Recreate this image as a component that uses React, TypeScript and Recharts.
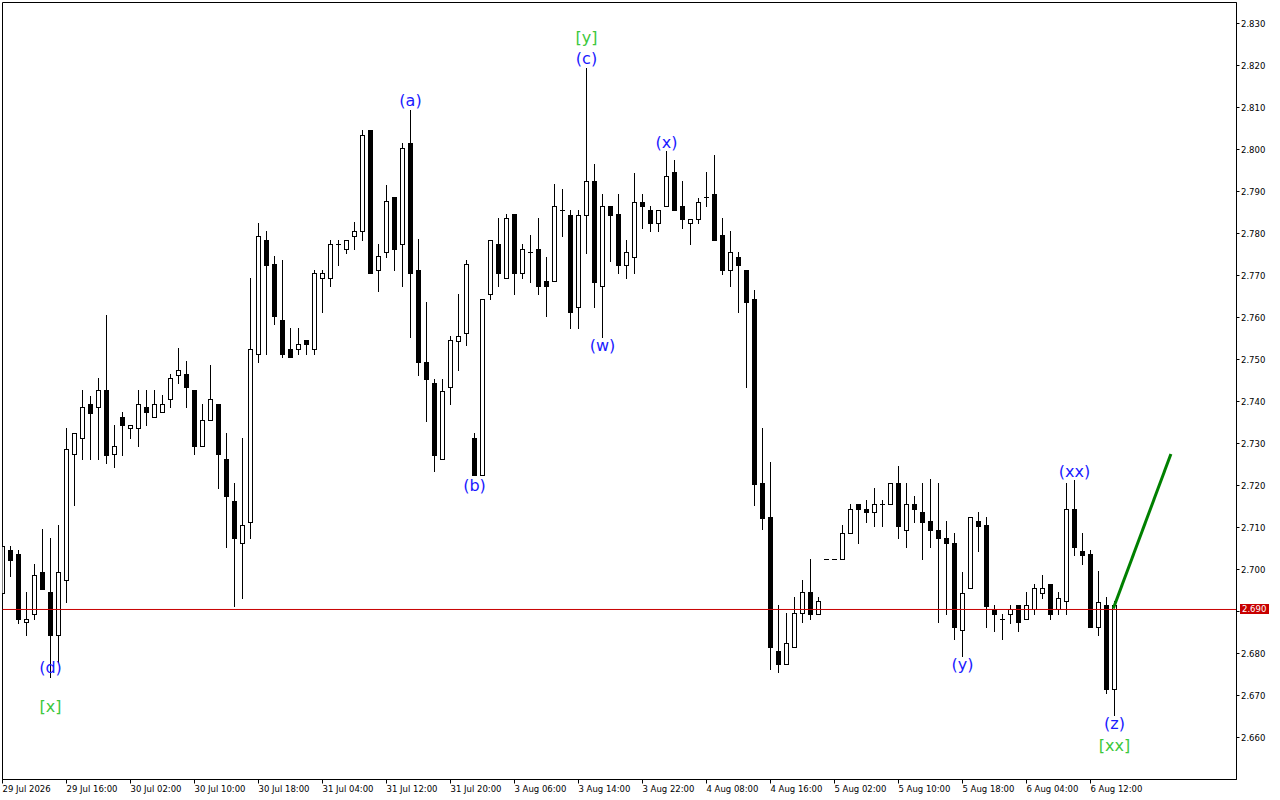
import {
  ComposedChart,
  Bar,
  XAxis,
  YAxis,
  ReferenceLine,
  ReferenceDot,
  ReferenceArea,
} from 'recharts';

const FONT = '"DejaVu Sans", Verdana, sans-serif';

// hourly bars, oldest first (29 Jul 08:00 .. 6 Aug 15:00)
const opens = [
  2.6944, 2.7046, 2.7037, 2.6874, 2.6895, 2.6995, 2.6946, 2.6845, 2.6974, 2.7274,
  2.7314, 2.7395, 2.7386, 2.7427, 2.7274, 2.7364, 2.7336, 2.7336, 2.7386, 2.7364,
  2.7374, 2.7405, 2.7464, 2.7465, 2.7427, 2.7294, 2.7355, 2.7395, 2.7264, 2.7164,
  2.7064, 2.7114, 2.7514, 2.7785, 2.7727, 2.7595, 2.7526, 2.7526, 2.7546, 2.7526,
  2.7695, 2.7695, 2.7776, 2.7764, 2.7795, 2.7805, 2.8046, 2.7714, 2.7755, 2.7886,
  2.7776, 2.8016, 2.7714, 2.7495, 2.7445, 2.7263, 2.7435, 2.7545, 2.7564, 2.7314,
  2.7225, 2.7655, 2.7776, 2.7694, 2.7846, 2.7705, 2.7755, 2.7764, 2.7686, 2.7686,
  2.7855, 2.7845, 2.7626, 2.7845, 2.7926, 2.7675, 2.7866, 2.7846, 2.7725, 2.7745,
  2.7876, 2.7855, 2.7826, 2.7866, 2.7946, 2.7866, 2.7825, 2.7835, 2.7887, 2.7895,
  2.7796, 2.7714, 2.7745, 2.7714, 2.7645, 2.7205, 2.7124, 2.6805, 2.6774, 2.6815,
  2.6897, 2.6946, 2.6894, 2.7024, 2.7024, 2.7024, 2.7086, 2.7155, 2.7145, 2.7136,
  2.7155, 2.7155, 2.7205, 2.7095, 2.7155, 2.7136, 2.7115, 2.7095, 2.7074, 2.7064,
  2.6855, 2.6955, 2.7115, 2.7105, 2.6905, 2.6883, 2.6895, 2.6915, 2.6883, 2.6905,
  2.6945, 2.6965, 2.6905, 2.6924, 2.7145, 2.7045, 2.7036, 2.6864, 2.6915, 2.6715,
];

const highs = [
  2.706, 2.7056, 2.7046, 2.6946, 2.7014, 2.7096, 2.7075, 2.7105, 2.7336, 2.7324,
  2.7427, 2.7414, 2.7455, 2.7605, 2.7345, 2.7374, 2.7345, 2.7427, 2.7427, 2.7427,
  2.7415, 2.7465, 2.7527, 2.7496, 2.7427, 2.7395, 2.7486, 2.7395, 2.7325, 2.7205,
  2.7314, 2.7695, 2.7826, 2.7805, 2.7746, 2.7736, 2.7576, 2.7576, 2.7546, 2.7714,
  2.7714, 2.7785, 2.7785, 2.7785, 2.7827, 2.8046, 2.8046, 2.7776, 2.7916, 2.7886,
  2.8016, 2.8095, 2.7786, 2.7636, 2.7454, 2.7454, 2.7555, 2.7655, 2.7736, 2.7324,
  2.7645, 2.7785, 2.7836, 2.7846, 2.7846, 2.7776, 2.7796, 2.7836, 2.7744, 2.7917,
  2.7905, 2.7855, 2.7855, 2.8195, 2.7966, 2.7895, 2.7866, 2.7895, 2.7785, 2.7945,
  2.7895, 2.7866, 2.7855, 2.7996, 2.7976, 2.7926, 2.7835, 2.7885, 2.7946, 2.7986,
  2.7836, 2.7806, 2.7755, 2.7714, 2.7665, 2.7337, 2.7255, 2.6915, 2.6897, 2.6934,
  2.6974, 2.7024, 2.6934, 2.7024, 2.7024, 2.7105, 2.7155, 2.7155, 2.7165, 2.7195,
  2.7165, 2.7205, 2.7246, 2.7205, 2.7175, 2.7205, 2.7215, 2.7205, 2.7115, 2.7086,
  2.6995, 2.7124, 2.7136, 2.7124, 2.6915, 2.6894, 2.6915, 2.6915, 2.6947, 2.6965,
  2.6987, 2.6965, 2.6947, 2.7205, 2.7214, 2.7086, 2.7046, 2.6996, 2.6935, 2.6925,
];

const lows = [
  2.6937, 2.6985, 2.6873, 2.6845, 2.6883, 2.6954, 2.6744, 2.678, 2.6923, 2.7154,
  2.7263, 2.7263, 2.7263, 2.7254, 2.7244, 2.7273, 2.7314, 2.7294, 2.7345, 2.7364,
  2.7374, 2.7386, 2.7444, 2.7386, 2.7274, 2.7294, 2.7355, 2.7194, 2.7054, 2.6913,
  2.6933, 2.7074, 2.7494, 2.7514, 2.7585, 2.7505, 2.7505, 2.7514, 2.7514, 2.7514,
  2.7613, 2.7675, 2.7725, 2.7754, 2.7763, 2.7785, 2.7705, 2.7663, 2.7744, 2.7712,
  2.7675, 2.7554, 2.7463, 2.7354, 2.7235, 2.7263, 2.7395, 2.7474, 2.7534, 2.7225,
  2.7225, 2.7644, 2.7675, 2.7694, 2.7655, 2.7694, 2.7685, 2.7655, 2.7604, 2.7686,
  2.7794, 2.7575, 2.7575, 2.7754, 2.7625, 2.7554, 2.7735, 2.7705, 2.7695, 2.7705,
  2.7814, 2.7805, 2.7805, 2.7866, 2.7855, 2.7813, 2.7776, 2.7825, 2.7866, 2.7785,
  2.7704, 2.7675, 2.7614, 2.7435, 2.7153, 2.7096, 2.6764, 2.6755, 2.6774, 2.6815,
  2.6874, 2.6883, 2.6894, 2.7024, 2.7024, 2.7024, 2.7086, 2.7063, 2.7113, 2.7104,
  2.7104, 2.7155, 2.7074, 2.7054, 2.7113, 2.7024, 2.7054, 2.6874, 2.6894, 2.6834,
  2.6794, 2.6955, 2.7044, 2.6864, 2.6853, 2.6834, 2.6873, 2.6854, 2.6883, 2.6895,
  2.6933, 2.6883, 2.6895, 2.6895, 2.7035, 2.7014, 2.6864, 2.6845, 2.6705, 2.6653,
];

const closes = [
  2.7056, 2.7023, 2.6883, 2.6883, 2.6986, 2.6954, 2.6845, 2.6995, 2.7286, 2.7324,
  2.7386, 2.7373, 2.7427, 2.7273, 2.7295, 2.7345, 2.7345, 2.7395, 2.7374, 2.7395,
  2.7395, 2.7455, 2.7476, 2.7435, 2.7294, 2.7355, 2.7405, 2.7274, 2.7174, 2.7074,
  2.7105, 2.7526, 2.7795, 2.7725, 2.7604, 2.7514, 2.7505, 2.7536, 2.7536, 2.7705,
  2.7705, 2.7776, 2.7776, 2.7785, 2.7805, 2.8035, 2.7705, 2.7746, 2.7877, 2.7763,
  2.8004, 2.7705, 2.7494, 2.7454, 2.7273, 2.7426, 2.7546, 2.7555, 2.7727, 2.7225,
  2.7645, 2.7785, 2.7705, 2.7836, 2.7705, 2.7764, 2.7755, 2.7675, 2.7675, 2.7866,
  2.7855, 2.7613, 2.7845, 2.7926, 2.7685, 2.7866, 2.7845, 2.7725, 2.7755, 2.7875,
  2.7865, 2.7826, 2.7855, 2.7936, 2.7855, 2.7835, 2.7835, 2.7876, 2.7887, 2.7785,
  2.7714, 2.7755, 2.7725, 2.7636, 2.7204, 2.7123, 2.6815, 2.6774, 2.6824, 2.6897,
  2.6946, 2.6894, 2.6925, 2.7024, 2.7024, 2.7086, 2.7145, 2.7145, 2.7136, 2.7155,
  2.7155, 2.7205, 2.7104, 2.7155, 2.7145, 2.7113, 2.7095, 2.7074, 2.7063, 2.6864,
  2.6945, 2.7124, 2.7104, 2.6913, 2.6895, 2.6883, 2.6905, 2.6874, 2.6915, 2.6955,
  2.6955, 2.6895, 2.6933, 2.7145, 2.7054, 2.7035, 2.6864, 2.6923, 2.6715, 2.6915,
];

const timeTicks = [0, 8, 16, 24, 32, 40, 48, 56, 64, 72, 80, 88, 96, 104, 112, 120, 128, 136];
const timeLabels = [
  '29 Jul 2026', '29 Jul 16:00', '30 Jul 02:00', '30 Jul 10:00', '30 Jul 18:00',
  '31 Jul 04:00', '31 Jul 12:00', '31 Jul 20:00', '3 Aug 06:00', '3 Aug 14:00',
  '3 Aug 22:00', '4 Aug 08:00', '4 Aug 16:00', '5 Aug 02:00', '5 Aug 10:00',
  '5 Aug 18:00', '6 Aug 04:00', '6 Aug 12:00',
];

const priceTicks = [
  2.66, 2.67, 2.68, 2.69, 2.7, 2.71, 2.72, 2.73, 2.74,
  2.75, 2.76, 2.77, 2.78, 2.79, 2.8, 2.81, 2.82, 2.83,
];

const lastPrice = 2.69048;

// wave marks: text, bar it sits on, price level of the text
const waveText = ['(d)', '[x]', '(a)', '(b)', '[y]', '(c)', '(w)', '(x)', '(y)', '(xx)', '(z)', '[xx]'];
const waveBar = [6, 6, 51, 59, 73, 73, 75, 83, 120, 134, 139, 139];
const wavePrice = [
  2.6767, 2.6675, 2.8117, 2.7201, 2.8267, 2.8216, 2.7534, 2.8016, 2.6775, 2.7234, 2.6634, 2.6582,
];

// expected move after [xx]
const projection = [
  { x: 138.85, y: 2.6907 },
  { x: 146.05, y: 2.7275 },
];

const candles = opens.map((open, i) => ({
  i,
  open,
  high: highs[i],
  low: lows[i],
  close: closes[i],
  range: [lows[i], highs[i]],
}));

function Candle(props: any) {
  const { x, y, width, height, payload } = props;
  const { open, close, high, low } = payload;
  const cx = Math.round(x + width / 2 - 0.5) + 0.5;
  const k = high > low ? height / (high - low) : 0;
  const py = (v: number) => Math.round(y + (high - v) * k);
  const yh = py(high);
  const yl = py(low);
  const yt = py(Math.max(open, close));
  const yb = py(Math.min(open, close));
  const up = close > open;
  return (
    <g>
      <rect x={cx - 0.5} y={yh} width={1} height={yl - yh + 1} fill="#000" />
      <rect x={cx - 2.5} y={yt} width={5} height={yb - yt + 1} fill="#000" />
      {up && yb - yt > 1 && (
        <rect x={cx - 1.5} y={yt + 1} width={3} height={yb - yt - 1} fill="#fff" />
      )}
    </g>
  );
}

function TimeTick({ x, y, payload }: any) {
  const k = timeTicks.indexOf(payload.value);
  return (
    <text x={x} y={y} dy="0.71em" textAnchor="start" fontSize={8.5} fontFamily={FONT} fill="#000">
      {timeLabels[k]}
    </text>
  );
}

// the bid tag covers the axis label underneath it
const priceLabel = (v: number) => (Math.abs(v - lastPrice) < 0.003 ? '' : v.toFixed(3));

function PriceTag({ viewBox }: any) {
  if (!viewBox) return null;
  const x = viewBox.x + viewBox.width + 3.5;
  const y = Math.floor(viewBox.y);
  return (
    <g>
      <rect x={x} y={y - 5} width={29} height={10} fill="#c80000" />
      <text x={x + 2} y={y} dy="0.36em" fontSize={8.5} fontFamily={FONT} fill="#fff">
        {lastPrice.toFixed(3)}
      </text>
    </g>
  );
}

export default function App() {
  return (
    <div style={{ position: 'absolute', left: 0, top: 0, width: 1280, height: 800, background: '#fff' }}>
      <ComposedChart
        width={1280}
        height={800}
        data={candles}
        margin={{ top: 2.5, right: 0, bottom: 0, left: 2.5 }}
      >
        <XAxis
          dataKey="i"
          type="number"
          domain={[0, 154.25]}
          allowDataOverflow
          ticks={timeTicks}
          interval={0}
          height={20.5}
          tickSize={4}
          tick={<TimeTick />}
          axisLine={{ stroke: '#000' }}
          tickLine={{ stroke: '#000' }}
        />
        <YAxis
          orientation="right"
          type="number"
          domain={[2.65, 2.835]}
          allowDataOverflow
          ticks={priceTicks}
          interval={0}
          width={43.5}
          tickSize={3}
          tickMargin={1.5}
          tickFormatter={priceLabel}
          tick={{ fontSize: 8.5, fontFamily: FONT, fill: '#000' }}
          axisLine={{ stroke: '#000' }}
          tickLine={{ stroke: '#000' }}
        />
        <ReferenceArea x1={0} x2={154.25} y1={2.65} y2={2.835} fill="none" stroke="#000" />
        <Bar dataKey="range" barSize={5} isAnimationActive={false} shape={Candle} />
        <ReferenceLine y={lastPrice} stroke="#c80000" label={<PriceTag />} />
        <ReferenceLine segment={projection} stroke="#008000" strokeWidth={3} ifOverflow="visible" />
        {waveText.map((t, n) => (
          <ReferenceDot
            key={n}
            x={waveBar[n]}
            y={wavePrice[n]}
            r={0}
            ifOverflow="visible"
            shape={(p: any) => (
              <text
                x={p.cx}
                y={p.cy}
                textAnchor="middle"
                dominantBaseline="central"
                fontSize={16}
                fontFamily={FONT}
                fill={t.startsWith('[') ? '#3cc83c' : '#1a1aff'}
              >
                {t}
              </text>
            )}
          />
        ))}
      </ComposedChart>
    </div>
  );
}
